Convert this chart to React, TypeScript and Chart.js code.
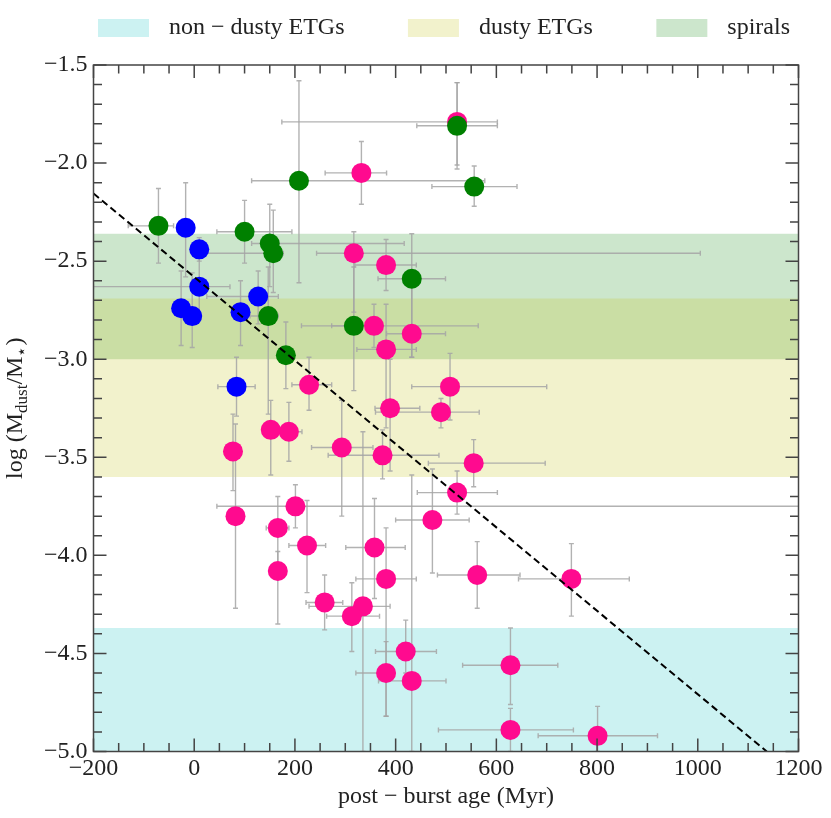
import { Chart, registerables } from 'chart.js';
import { useEffect, useRef } from 'react';

Chart.register(...registerables);

const FONT = '"Liberation Serif", "DejaVu Serif", serif';
const TEXT = '#222';

// post-starburst galaxies: x = post-burst age (Myr), y = log(Mdust/M*)
const pinkAge = [332, 522, 317, 381, 357, 432, 381, 228, 389, 490, 508, 77, 82, 152, 188, 293, 374, 555, 522, 201, 166, 166, 224, 358, 381, 473, 259, 335, 313, 420, 381, 432, 562, 749, 628, 628, 801];
const pinkDust = [-2.05, -1.79, -2.46, -2.52, -2.83, -2.87, -2.95, -3.13, -3.25, -3.27, -3.14, -3.47, -3.8, -3.36, -3.37, -3.45, -3.49, -3.53, -3.68, -3.75, -3.86, -4.08, -3.95, -3.96, -4.12, -3.82, -4.24, -4.26, -4.31, -4.49, -4.6, -4.64, -4.1, -4.12, -4.56, -4.89, -4.92];
const pinkAgeLo = [72, 348, 74, 62, 84, 50, 58, 34, 30, 130, 76, 0, 0, 0, 0, 60, 108, 90, 79, 156, 23, 0, 36, 57, 60, 73, 37, 107, 50, 60, 60, 66, 79, 105, 95, 143, 118];
const pinkAgeHi = [50, 80, 688, 60, 207, 67, 60, 45, 59, 76, 192, 0, 0, 0, 26, 62, 112, 142, 80, 1100, 22, 5, 37, 61, 60, 73, 36, 54, 55, 61, 0, 68, 85, 115, 94, 125, 119];
const pinkDustLo = [0.16, 0.22, 0.3, 0.13, 0.11, 0.12, 0.4, 0.13, 0.32, 0.08, 0.17, 0.2, 0.47, 0.23, 0.15, 0.35, 0.12, 0.12, 0.11, 0.11, 0.2, 0.27, 0.24, 0.26, 0.7, 0.27, 0.14, 0.74, 0.18, 0.11, 0.22, 0.36, 0.17, 0.19, 0.2, 0.11, 0.08];
const pinkDustHi = [0.16, 0.2, 0.11, 0.13, 0.11, 0.28, 0.23, 0.14, 0.25, 0.07, 0.17, 0.19, 0.47, 0.15, 0.15, 0.24, 0.13, 0.12, 0.11, 0.11, 0.16, 0.1, 0.23, 0.25, 0.26, 0.26, 0.14, 0.89, 0.17, 0.16, 0.16, 1.05, 0.17, 0.18, 0.19, 0.11, 0.15];

const greenAge = [-71, 208, 556, 522, 100, 150, 157, 147, 182, 432, 317];
const greenDust = [-2.32, -2.09, -2.12, -1.81, -2.35, -2.41, -2.46, -2.78, -2.98, -2.59, -2.83];
const greenAgeLo = [60, 94, 84, 80, 55, 36, 147, 36, 10, 67, 104];
const greenAgeHi = [30, 369, 85, 80, 94, 267, 20, 20, 10, 67, 40];
const greenDustLo = [0.19, 0.52, 0.1, 0.22, 0.16, 0.22, 0.2, 0.5, 0.17, 0.4, 0.33];
const greenDustHi = [0.19, 0.51, 0.105, 0.22, 0.16, 0.2, 0.22, 0.25, 0.17, 0.23, 0.3];

const blueAge = [-17, 10, 10, -26, -4, 127, 92, 84];
const blueDust = [-2.33, -2.44, -2.63, -2.74, -2.78, -2.68, -2.76, -3.14];
const blueAgeLo = [0, 0, 210, 0, 0, 102, 0, 37];
const blueAgeHi = [0, 0, 61, 0, 0, 40, 0, 37];
const blueDustLo = [0.25, 0.06, 0.14, 0.19, 0.16, 0.14, 0.17, 0.15];
const blueDustHi = [0.23, 0.06, 0.17, 0.19, 0.22, 0.13, 0.16, 0.15];

// reference ranges of log(Mdust/M*)
const bandLabels = ['non − dusty ETGs', 'dusty ETGs', 'spirals'];
const bandTop = [-4.37, -2.69, -2.36];
const bandBottom = [-5.0, -3.6, -3.0];
const bandColors = ['rgba(0,191,191,0.2)', 'rgba(191,191,0,0.2)', 'rgba(0,128,0,0.2)'];

// fitted trend
const trendAge = [-200, 1137];
const trendDust = [-2.155, -5.0];

const groups = [
  { age: pinkAge, dust: pinkDust, xlo: pinkAgeLo, xhi: pinkAgeHi, ylo: pinkDustLo, yhi: pinkDustHi },
  { age: greenAge, dust: greenDust, xlo: greenAgeLo, xhi: greenAgeHi, ylo: greenDustLo, yhi: greenDustHi },
  { age: blueAge, dust: blueDust, xlo: blueAgeLo, xhi: blueAgeHi, ylo: blueDustLo, yhi: blueDustHi },
];

const minus = (s: string) => s.replace('-', '\u2212');

const errorBars = {
  id: 'errorBars',
  beforeDatasetDraw(chart: any, args: any) {
    if (!chart.data.datasets[args.index].firstPoints) return;
    const { ctx, chartArea: a, scales } = chart;
    const x = scales.x;
    const y = scales.y;
    const cap = 2.5;
    ctx.save();
    ctx.beginPath();
    ctx.rect(a.left, a.top, a.right - a.left, a.bottom - a.top);
    ctx.clip();
    ctx.strokeStyle = 'rgba(165,165,165,0.85)';
    ctx.lineWidth = 1.4;
    groups.forEach((g) => {
      g.age.forEach((age, i) => {
        const px = x.getPixelForValue(age);
        const py = y.getPixelForValue(g.dust[i]);
        ctx.beginPath();
        if (g.xlo[i] || g.xhi[i]) {
          const x0 = x.getPixelForValue(age - g.xlo[i]);
          const x1 = x.getPixelForValue(age + g.xhi[i]);
          ctx.moveTo(x0, py); ctx.lineTo(x1, py);
          ctx.moveTo(x0, py - cap); ctx.lineTo(x0, py + cap);
          ctx.moveTo(x1, py - cap); ctx.lineTo(x1, py + cap);
        }
        const y0 = y.getPixelForValue(g.dust[i] - g.ylo[i]);
        const y1 = y.getPixelForValue(g.dust[i] + g.yhi[i]);
        ctx.moveTo(px, y0); ctx.lineTo(px, y1);
        ctx.moveTo(px - cap, y0); ctx.lineTo(px + cap, y0);
        ctx.moveTo(px - cap, y1); ctx.lineTo(px + cap, y1);
        ctx.stroke();
      });
    });
    ctx.restore();
  },
};

// inward ticks on all four sides plus the frame
const frameTicks = {
  id: 'frameTicks',
  afterDraw(chart: any) {
    const { ctx, chartArea: a, scales } = chart;
    const x = scales.x;
    const y = scales.y;
    ctx.save();
    ctx.strokeStyle = '#444';
    ctx.lineWidth = 1.5;
    ctx.beginPath();
    for (let v = x.min; v <= x.max + 1e-6; v += 50) {
      const p = x.getPixelForValue(v);
      const len = Math.abs(v % 200) < 1e-6 ? 13 : 8.5;
      ctx.moveTo(p, a.bottom); ctx.lineTo(p, a.bottom - len);
      ctx.moveTo(p, a.top); ctx.lineTo(p, a.top + len);
    }
    for (let k = 0; k <= 35; k++) {
      const v = y.min + k * 0.1;
      const p = y.getPixelForValue(v);
      const len = k % 5 === 0 ? 13 : 8.5;
      ctx.moveTo(a.left, p); ctx.lineTo(a.left + len, p);
      ctx.moveTo(a.right, p); ctx.lineTo(a.right - len, p);
    }
    ctx.stroke();
    ctx.strokeRect(a.left, a.top, a.right - a.left, a.bottom - a.top);
    ctx.restore();
  },
};

// legend row spread between x = 98 and x = 790
const bandLegend = {
  id: 'bandLegend',
  afterDraw(chart: any) {
    const { ctx } = chart;
    ctx.save();
    ctx.font = `24px ${FONT}`;
    ctx.textBaseline = 'middle';
    ctx.textAlign = 'left';
    const boxW = 51, boxH = 18, gapText = 20;
    const start = 98, end = 790;
    const widths = bandLabels.map((t) => ctx.measureText(t).width);
    const used = widths.reduce((s, w) => s + boxW + gapText + w, 0);
    const gapItem = (end - start - used) / (bandLabels.length - 1);
    let cx = start;
    bandLabels.forEach((t, i) => {
      ctx.fillStyle = bandColors[i];
      ctx.fillRect(cx, 19, boxW, boxH);
      ctx.fillStyle = TEXT;
      ctx.fillText(t, cx + boxW + gapText, 28);
      cx += boxW + gapText + widths[i] + gapItem;
    });
    ctx.restore();
  },
};

const yTitle = {
  id: 'yTitle',
  afterDraw(chart: any) {
    const { ctx, chartArea: a } = chart;
    const parts: [string, number, number][] = [
      ['log (M', 24, 0],
      ['dust', 17, 5],
      ['/M', 24, 0],
      ['\u22C6', 17, 5],
      [')', 24, 0],
    ];
    ctx.save();
    ctx.fillStyle = TEXT;
    ctx.textBaseline = 'alphabetic';
    ctx.textAlign = 'left';
    const widths = parts.map(([t, s]) => {
      ctx.font = `${s}px ${FONT}`;
      return ctx.measureText(t).width;
    });
    const total = widths.reduce((s, w) => s + w, 0);
    ctx.translate(15, (a.top + a.bottom) / 2);
    ctx.rotate(-Math.PI / 2);
    let px = -total / 2;
    parts.forEach(([t, s, off], i) => {
      ctx.font = `${s}px ${FONT}`;
      ctx.fillText(t, px, 7 + off);
      px += widths[i];
    });
    ctx.restore();
  },
};

const toPoints = (xs: number[], ys: number[]) => xs.map((v, i) => ({ x: v, y: ys[i] }));

export default function App() {
  const chartRef = useRef<HTMLCanvasElement>(null);

  useEffect(() => {
    document.body.style.margin = '0';
    const ctx = chartRef.current!.getContext('2d')!;

    const bandSets = bandLabels.map((label, i) => ({
      type: 'line' as const,
      label,
      data: [{ x: -200, y: bandTop[i] }, { x: 1200, y: bandTop[i] }],
      borderWidth: 0,
      borderColor: 'rgba(0,0,0,0)',
      backgroundColor: bandColors[i],
      pointRadius: 0,
      fill: { value: bandBottom[i] },
      order: 10 + i,
    }));

    const chartInstance = new Chart(ctx, {
      type: 'scatter',
      data: {
        datasets: [
          ...bandSets,
          {
            label: 'pink',
            firstPoints: true,
            data: toPoints(pinkAge, pinkDust),
            backgroundColor: '#ff0a8f',
            borderWidth: 0,
            pointRadius: 10,
            order: 3,
          },
          {
            label: 'green',
            data: toPoints(greenAge, greenDust),
            backgroundColor: '#008000',
            borderWidth: 0,
            pointRadius: 10,
            order: 2,
          },
          {
            label: 'blue',
            data: toPoints(blueAge, blueDust),
            backgroundColor: '#0000ff',
            borderWidth: 0,
            pointRadius: 10,
            order: 1,
          },
          {
            type: 'line',
            label: 'trend',
            data: toPoints(trendAge, trendDust),
            borderColor: '#000',
            borderWidth: 2,
            borderDash: [7, 4],
            pointRadius: 0,
            fill: false,
            order: 0,
          },
        ] as any,
      },
      options: {
        animation: false,
        responsive: true,
        maintainAspectRatio: false,
        layout: { padding: { top: 65, right: 32.5, bottom: 0, left: 0 } },
        plugins: {
          legend: { display: false },
          tooltip: { enabled: false },
        },
        scales: {
          x: {
            type: 'linear',
            min: -200,
            max: 1200,
            grid: { display: false, drawTicks: false },
            border: { display: false },
            ticks: {
              stepSize: 200,
              padding: 3,
              color: TEXT,
              font: { family: FONT, size: 24 },
              maxRotation: 0,
              callback: (v: any) => minus(String(v)),
            },
            title: {
              display: true,
              text: 'post − burst age (Myr)',
              color: TEXT,
              font: { family: FONT, size: 24 },
              padding: { top: 0, bottom: 7 },
            },
            afterFit: (s: any) => { s.height = 66.5; },
          },
          y: {
            type: 'linear',
            min: -5.0,
            max: -1.5,
            grid: { display: false, drawTicks: false },
            border: { display: false },
            ticks: {
              stepSize: 0.5,
              padding: 6,
              color: TEXT,
              font: { family: FONT, size: 24 },
              callback: (v: any) => minus(Number(v).toFixed(1)),
            },
            afterFit: (s: any) => { s.width = 93.5; },
          },
        },
      },
      plugins: [errorBars, frameTicks, bandLegend, yTitle],
    });

    return () => {
      chartInstance.destroy();
    };
  }, []);

  return (
    <div style={{ width: 831, height: 818, position: 'relative' }}>
      <canvas ref={chartRef} />
    </div>
  );
}
